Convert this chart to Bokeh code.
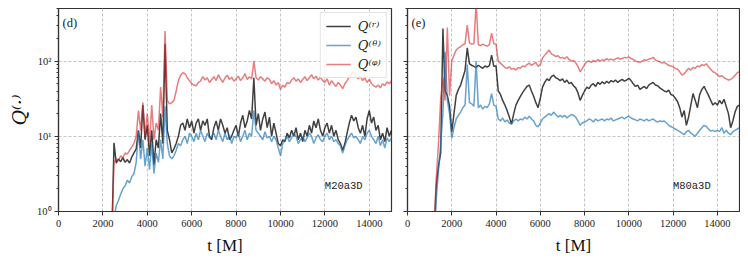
import numpy as np
from bokeh.plotting import figure
from bokeh.layouts import row
from bokeh.models import Range1d, FixedTicker, Label, Legend, LegendItem
from bokeh.embed import file_html
from bokeh.resources import INLINE

nan = float("nan")

# ---------------- panel (d): M20a3D, t = 2000 ... 15000 step 100 ----------------
t_d = np.arange(2000, 15001, 100)
Qr_d = [
    nan, nan, nan, nan, 0.4, 8.2, 4.4, 5.0, 4.6, 5.2,
    4.5, 4.9, 4.4, 5.3, 6.0, 6.8, 12, 7, 26, 9,
    14, 5.5, 12, 4.2, 9, 7, 20, 8, 170, 12,
    9, 6, 6.8, 8, 10, 14, 15, 12, 17, 13,
    16, 11, 15, 17, 12, 16, 14, 17, 10, 9,
    13, 16, 12, 17, 14, 11, 13, 9, 10, 12,
    14, 10, 15, 19, 13, 16, 22, 17, 60, 14,
    20, 12, 17, 21, 13, 18, 10, 15, 11, 8,
    7.5, 9, 8.5, 11, 9.5, 12, 10, 13, 9, 11,
    8.5, 12, 10, 14, 11, 16, 13, 17, 12, 10,
    13, 15, 11, 14, 10, 12, 9, 8, 6.5, 8,
    11, 15, 19, 16, 18, 13, 11, 14, 10, 17,
    22, 15, 18, 12, 14, 9, 11, 8.5, 13, 10,
    12,
]
Qth_d = [
    nan, nan, nan, nan, 0.3, 0.8, 1.2, 1.4, 1.7, 2.0,
    2.2, 2.6, 2.4, 2.9, 3.2, 4.5, 12, 5, 9, 4,
    7, 3.6, 8, 3.2, 6, 4.5, 9, 5, 25, 8,
    5.5, 5, 5.5, 6.5, 8, 7.5, 9, 10, 8, 11,
    10, 8.5, 11, 9, 12, 10, 8.5, 11, 9.5, 10,
    11, 9, 12, 10, 8.5, 11, 9, 10.5, 8, 10,
    9.5, 11, 8.5, 10, 12, 9, 11, 10, 22, 12,
    11, 10, 9, 11.5, 9.5, 10, 8.5, 10, 9, 7,
    5.5, 8, 9, 10, 8.5, 9.5, 11, 10, 8, 9,
    10, 8.5, 9.5, 11, 10, 8, 9.5, 10.5, 9, 8.5,
    10, 11, 9, 10, 8.5, 9, 8, 7.5, 6, 7.5,
    9, 10, 11, 9.5, 10, 9, 8, 10, 9, 11,
    12, 10, 9, 8, 10, 7.5, 9, 7, 9.5, 8.5,
    9.5,
]
Qph_d = [
    nan, nan, nan, nan, 0.5, 4.5, 5.0, 4.7, 5.5, 5.2,
    6.0, 5.8, 6.5, 7.2, 8.0, 10, 22, 12, 28, 10,
    20, 8, 26, 9, 15, 12, 45, 18, 250, 30,
    27, 28, 30, 40, 55, 65, 70, 68, 60, 55,
    50, 48, 47, 52, 54, 62, 56, 60, 52, 57,
    62, 55, 66, 58, 52, 60, 65, 57, 61, 54,
    58, 63, 55, 60, 68, 57, 62, 58, 100, 60,
    56, 62, 58, 54, 60, 57, 50, 55, 48, 52,
    42, 48, 45, 52, 50, 56, 60, 54, 58, 52,
    57, 62, 55, 60, 66, 58, 63, 56, 61, 55,
    52, 58, 48, 55, 50, 46, 52, 48, 43, 50,
    55, 62, 68, 72, 64, 58, 63, 55, 60, 52,
    57, 50, 47, 45, 48, 44, 50, 47, 53, 50,
    55,
]

# ---------------- panel (e): M80a3D, t = 1000 ... 15000 step 100 ----------------
t_e = np.arange(1000, 15001, 100)
Qr_e = [
    nan, nan, 0.5, 2.2, 4.0, 6.0, 270, 40, 35, 25,
    11.4, 20, 35, 42, 48, 60, 75, 150, 92, 88,
    85, 82, 88, 84, 80, 86, 83, 87, 120, 85,
    86, 40, 36, 30, 26, 22, 18, 14.5, 20, 26,
    30, 34, 38, 42, 46, 48, 40, 34, 28, 24,
    32, 45, 52, 58, 55, 62, 65, 60, 58, 55,
    58, 52, 56, 50, 52, 47, 44, 38, 30, 35,
    40, 45, 43, 48, 50, 46, 52, 49, 53, 50,
    54, 51, 55, 53, 56, 52, 55, 57, 54, 56,
    59, 55, 50, 46, 48, 42, 44, 46, 43, 48,
    50, 52, 48, 47, 44, 42, 40, 39, 41, 36,
    35, 32, 29, 24, 18, 22, 14, 18, 26, 37,
    30, 24, 36, 42, 46, 40, 35, 30, 26, 28,
    26, 30, 27, 31, 25, 20, 13, 16, 21, 25,
    26,
]
Qth_e = [
    nan, nan, 0.3, 1.5, 3.5, 8, 20, 133, 30, 20,
    9.4, 13, 17, 19, 21, 24, 26, 90, 28, 27,
    25, 100, 24, 26, 23, 25, 24, 27, 37, 26,
    25, 17, 16, 17.5, 15.5, 16.5, 15, 14.5, 16, 17,
    16, 17, 16.5, 18, 17, 18.5, 17, 16, 14, 13.3,
    15, 17, 18, 19, 20, 19, 21, 19.5, 18, 19,
    18, 19, 17.5, 18.5, 19.5, 19, 18, 16, 14, 15,
    15.5, 16, 17, 16.5, 15.5, 17, 16, 16.5, 17, 16,
    17, 16.5, 17.5, 16, 16.5, 17, 17.5, 18, 17, 18,
    18.5, 17.5, 17, 16.5, 16, 17, 16.5, 16, 17, 16,
    16.5, 17, 16, 15.5, 16, 15.7, 16, 15, 14, 13.5,
    13, 12.5, 12, 11.5, 11, 10.5, 11.5, 12, 11, 10.5,
    10, 11, 12, 13, 14, 13.5, 12.5, 11.7, 12, 11.5,
    12, 11.5, 13, 11, 12, 11, 10.5, 11.5, 12, 12.5,
    13,
]
Qph_e = [
    nan, nan, 0.6, 2.8, 8, 32, 60, 30, 280, 35,
    100, 120, 140, 150, 155, 165, 170, 300, 175, 168,
    170, 600, 165, 160, 168, 162, 158, 165, 235, 170,
    168, 100, 94, 88, 82, 80, 84, 78, 80, 76,
    82, 80, 86, 84, 90, 94, 88, 92, 96, 85,
    90, 110, 120, 130, 140, 125, 120, 115, 118, 110,
    112, 108, 114, 105, 100, 102, 95, 85, 72, 80,
    90, 98, 100, 96, 102, 98, 105, 100, 104, 102,
    108, 104, 106, 103, 107, 110, 106, 108, 112, 110,
    114, 108, 105, 100, 98, 96, 100, 104, 102, 106,
    108, 112, 104, 100, 98, 94, 96, 92, 88, 86,
    84, 80, 78, 72, 65, 68, 74, 80, 76, 82,
    80, 86, 84, 90, 87, 92, 84, 78, 72, 70,
    66, 62, 64, 60, 58, 56, 57, 60, 65, 70,
    72,
]

x_ticks = [0, 2000, 4000, 6000, 8000, 10000, 12000, 14000]
y_ticks = [1, 10, 100]
y_minor = [2, 3, 4, 5, 6, 7, 8, 9, 20, 30, 40, 50, 60, 70, 80, 90, 200, 300, 400, 500]
y_tick_labels = {1: "10⁰", 10: "10¹", 100: "10²"}
series_labels = ["Q⁽ʳ⁾", "Q⁽ᶿ⁾", "Q⁽ᵠ⁾"]
colors = ["#000000", "#1f77b4", "#d62728"]
alphas = [0.75, 0.68, 0.6]

SERIF = "Liberation Serif"
MATHSERIF = "DejaVu Serif"
MONO = "Liberation Mono"


def make_panel(t, series, tag, run_name, left):
    p = figure(
        output_backend="svg", toolbar_location=None,
        y_axis_type="log",
        x_range=Range1d(0, 15000), y_range=Range1d(1, 500),
        frame_width=333 if left else 332, frame_height=203,
        min_border_left=58 if left else 8, min_border_right=8 if left else 1,
        min_border_top=8, min_border_bottom=52,
    )
    p.background_fill_color = "white"
    p.border_fill_color = "white"
    p.outline_line_color = "#333333"
    p.outline_line_width = 1.2

    xt = FixedTicker(ticks=x_ticks)
    yt = FixedTicker(ticks=y_ticks, minor_ticks=y_minor)
    p.xaxis.ticker = xt
    p.yaxis.ticker = yt
    p.xgrid.ticker = xt
    p.ygrid.ticker = yt
    for g in (p.xgrid, p.ygrid):
        g.grid_line_color = "#b5b5b5"
        g.grid_line_dash = "3 2"
        g.grid_line_width = 0.8

    for ax in (p.xaxis, p.yaxis):
        ax.axis_line_color = "#333333"
        ax.axis_line_width = 1.2
        ax.major_tick_line_color = "#333333"
        ax.minor_tick_line_color = "#333333"
        ax.major_tick_in = 0
        ax.major_tick_out = 4
        ax.minor_tick_in = 0
        ax.minor_tick_out = 2
        ax.major_label_text_font = SERIF
        ax.major_label_text_font_size = "10.5px"
        ax.major_label_text_color = "#222222"
        ax.axis_label_text_font = SERIF
        ax.axis_label_text_font_style = "normal"
        ax.axis_label_text_color = "#111111"

    p.xaxis.major_label_standoff = 4
    p.xaxis.axis_label = "t [M]"
    p.xaxis.axis_label_text_font_size = "17px"
    p.xaxis.axis_label_standoff = 6

    if left:
        p.yaxis.major_label_overrides = y_tick_labels
        p.yaxis.major_label_standoff = 3
        p.yaxis.axis_label = "Q⁽·⁾"
        p.yaxis.axis_label_text_font = MATHSERIF
        p.yaxis.axis_label_text_font_style = "italic"
        p.yaxis.axis_label_text_font_size = "19px"
        p.yaxis.axis_label_standoff = 4
    else:
        p.yaxis.major_label_overrides = {1: "", 10: "", 100: ""}
        p.yaxis.major_label_standoff = 0

    renderers = []
    for vals, c, a in zip(series, colors, alphas):
        r = p.line(t, np.array(vals, dtype=float), line_color=c, line_alpha=a, line_width=1.5)
        renderers.append(r)

    p.add_layout(Label(x=180, y=320, text=tag, text_font=SERIF, text_font_size="12.5px",
                       text_baseline="middle", text_align="left", text_color="#222222"))
    p.add_layout(Label(x=13700, y=2.2, text=run_name, text_font=MONO, text_font_size="10.5px",
                       text_baseline="middle", text_align="right", text_color="#222222"))

    if left:
        legend = Legend(
            items=[LegendItem(label=lab, renderers=[r]) for lab, r in zip(series_labels, renderers)],
            location="top_right",
        )
        legend.label_text_font = MATHSERIF
        legend.label_text_font_style = "italic"
        legend.label_text_font_size = "13px"
        legend.label_text_color = "#222222"
        legend.border_line_color = "#cccccc"
        legend.border_line_width = 1
        legend.background_fill_alpha = 0.85
        legend.glyph_width = 25
        legend.glyph_height = 16
        legend.label_height = 16
        legend.label_standoff = 7
        legend.spacing = 3
        legend.padding = 5
        legend.margin = 4
        p.add_layout(legend)
    return p


p1 = make_panel(t_d, [Qr_d, Qth_d, Qph_d], "(d)", "M20a3D", True)
p2 = make_panel(t_e, [Qr_e, Qth_e, Qph_e], "(e)", "M80a3D", False)

layout = row(p1, p2)
open("out.html", "w").write(file_html(layout, INLINE))
